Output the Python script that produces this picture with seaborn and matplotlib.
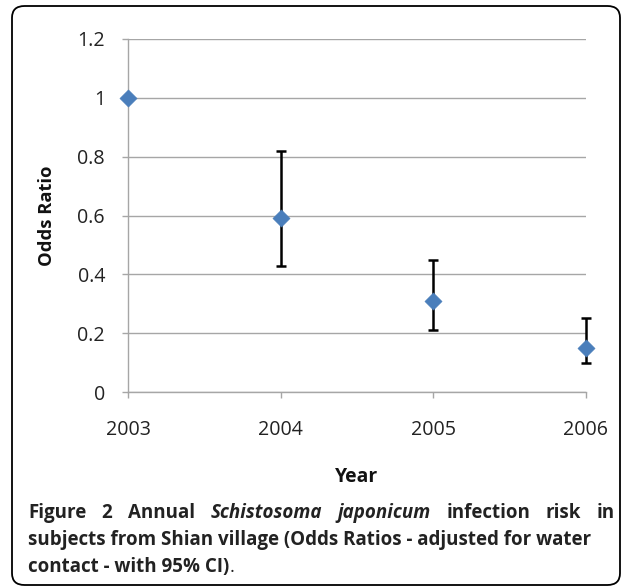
import matplotlib
matplotlib.use("Agg")
import matplotlib.pyplot as plt
import seaborn as sns
import pandas as pd
from matplotlib.patches import FancyBboxPatch

years = [2003, 2004, 2005, 2006]
odds_ratio = [1.0, 0.59, 0.31, 0.15]
ci_low = [1.0, 0.43, 0.21, 0.10]
ci_high = [1.0, 0.82, 0.45, 0.25]
y_ticks = [0, 0.2, 0.4, 0.6, 0.8, 1, 1.2]
y_tick_labels = ["0", "0.2", "0.4", "0.6", "0.8", "1", "1.2"]

sns.set_theme(style="white")
plt.rcParams['font.family'] = ['Open Sans', 'DejaVu Sans']

W, H = 627, 587
fig = plt.figure(figsize=(W/100, H/100), dpi=100)
fig.canvas.draw()
renderer = fig.canvas.get_renderer()


def fit_size(text, target_px, weight='normal', style='normal'):
    t = fig.text(0, 0, text, fontsize=10, fontweight=weight, fontstyle=style)
    w = t.get_window_extent(renderer).width
    t.remove()
    return 10 * target_px / w


AX_L, AX_R, AX_T, AX_B = 128, 586, 39, 392
ax = fig.add_axes([AX_L/W, 1-AX_B/H, (AX_R-AX_L)/W, (AX_B-AX_T)/H])

df = pd.DataFrame({"Year": years, "OR": odds_ratio})
err_lo = [o - l for o, l in zip(odds_ratio, ci_low)]
err_hi = [h - o for o, h in zip(odds_ratio, ci_high)]
ax.errorbar(years[1:], odds_ratio[1:], yerr=[err_lo[1:], err_hi[1:]], fmt='none',
            ecolor='black', elinewidth=1.8, capsize=3.8, capthick=1.8, zorder=3,
            clip_on=False)
sns.scatterplot(data=df, x="Year", y="OR", marker="D", s=78, color="#4A7EBB",
                edgecolor="#4A7EBB", linewidth=0.3, ax=ax, zorder=4, clip_on=False)

ax.set_xlim(2003, 2006)
ax.set_ylim(0, 1.2)
ax.set_yticks(y_ticks)
ax.set_yticklabels(y_tick_labels)
ax.set_xticks(years)
ax.set_xticklabels([str(y) for y in years])
ax.grid(axis='y', color='#A6A6A6', linewidth=1.0)
ax.set_axisbelow(True)
for s in ['top', 'right']:
    ax.spines[s].set_visible(False)
for s in ['left', 'bottom']:
    ax.spines[s].set_color('#A6A6A6')
    ax.spines[s].set_linewidth(1.0)

tick_fs = fit_size("2003", 45)
ax.tick_params(axis='y', left=True, length=4.5, width=1.0, color='#A6A6A6',
               labelsize=tick_fs, labelcolor='#222222', pad=12)
ax.tick_params(axis='x', bottom=True, length=4, width=1.0, color='#A6A6A6',
               labelsize=tick_fs, labelcolor='#222222', pad=16)

ylab_fs = fit_size("Odds Ratio", 100, weight='bold')
xlab_fs = fit_size("Year", 43, weight='bold')
ax.set_xlabel("Year", fontsize=xlab_fs, fontweight='bold', color='#111111')
ax.set_ylabel("Odds Ratio", fontsize=ylab_fs, fontweight='bold', color='#111111')
ax.xaxis.set_label_coords((357-AX_L)/(AX_R-AX_L), (AX_B-477)/(AX_B-AX_T))
ax.xaxis.label.set_va('center')
ax.yaxis.set_label_coords((47-AX_L)/(AX_R-AX_L), 0.5)
ax.yaxis.label.set_va('center')

# Border
border = FancyBboxPatch((12/W, 1-585/H), (620-12)/W, (585-6)/H,
                        boxstyle="round,pad=0,rounding_size=0.02",
                        transform=fig.transFigure, fill=False,
                        edgecolor='black', linewidth=1.3, clip_on=False)
fig.patches.append(border)

# Caption
cap_fs = fit_size("subjects from Shian village (Odds Ratios - adjusted for water", 562,
                  weight='bold')
lines = [
    [("Figure", 'bold', 'normal'), ("2", 'bold', 'normal'), ("Annual", 'bold', 'normal'),
     ("Schistosoma", 'bold', 'italic'), ("japonicum", 'bold', 'italic'),
     ("infection", 'bold', 'normal'), ("risk", 'bold', 'normal'), ("in", 'bold', 'normal')],
    [("subjects from Shian village (Odds Ratios - adjusted for water", 'bold', 'normal')],
    [("contact - with 95% CI)", 'bold', 'normal'), (".", 'normal', 'normal')],
]
line_y = [513, 540, 567]
x_left, x_right = 28, 615
for li, (words, ypx) in enumerate(zip(lines, line_y)):
    texts = []
    for (t, w, st) in words:
        tx = fig.text(0, 1 - ypx/H, t, fontsize=cap_fs, fontweight=w, fontstyle=st,
                      va='center', ha='left', color='#222222')
        texts.append(tx)
    widths = [tx.get_window_extent(renderer).width for tx in texts]
    if li == 0:
        gap = (x_right - x_left - sum(widths)) / (len(texts) - 1)
    else:
        gap = 0
    x = x_left
    for tx, w in zip(texts, widths):
        tx.set_x(x / W)
        x += w + gap

fig.savefig("out.png", dpi=100)
